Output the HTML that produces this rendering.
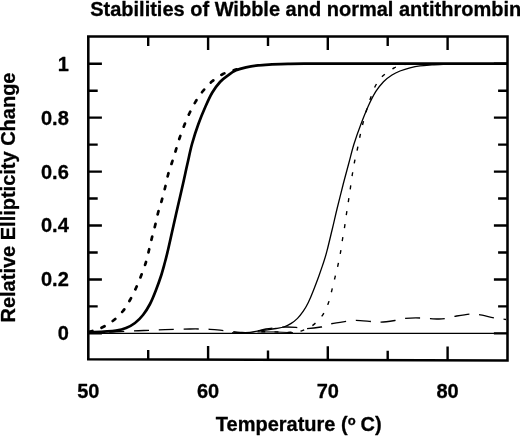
<!DOCTYPE html>
<html><head><meta charset="utf-8"><title>Stabilities of Wibble and normal antithrombin</title>
<style>
html,body{margin:0;padding:0;background:#fff}
svg{display:block}
text{font-family:"Liberation Sans",Arial,Helvetica,sans-serif;font-weight:bold;font-size:20px;fill:#000;stroke:#000;stroke-width:0.3px;stroke-linejoin:round}
</style></head><body>
<svg width="520" height="436" viewBox="0 0 520 436">
<rect width="520" height="436" fill="#fff"/>
<text x="90.2" y="16" textLength="431" lengthAdjust="spacingAndGlyphs">Stabilities of Wibble and normal antithrombin</text>
<text transform="translate(15 322.5) rotate(-90)" textLength="250" lengthAdjust="spacingAndGlyphs">Relative Ellipticity Change</text>
<text x="215.8" y="430.9">Temperature (<tspan font-size="13" dy="-6.4">o</tspan><tspan dy="6.4" dx="-0.6"> C)</tspan></text>
<text x="68.8" y="70.6" text-anchor="end">1</text><text x="68.8" y="124.5" text-anchor="end">0.8</text><text x="68.8" y="178.5" text-anchor="end">0.6</text><text x="68.8" y="232.4" text-anchor="end">0.4</text><text x="68.8" y="286.4" text-anchor="end">0.2</text><text x="68.8" y="340.3" text-anchor="end">0</text>
<text x="88.3" y="398" text-anchor="middle">50</text><text x="208.1" y="398" text-anchor="middle">60</text><text x="327.8" y="398" text-anchor="middle">70</text><text x="447.6" y="398" text-anchor="middle">80</text>
<g fill="none" stroke="#000">
<path d="M88.3 333.3H507.5" stroke-width="1.3"/>
<path d="M88.4 332.5C92.0 332.4 102.4 332.3 110.0 332.0C117.6 331.7 127.3 331.1 134.0 330.8C140.7 330.5 144.8 330.5 150.0 330.3C155.2 330.1 158.3 329.9 165.0 329.7C171.7 329.5 182.5 329.1 190.0 329.0C197.5 328.9 204.3 329.0 210.0 329.3C215.7 329.6 219.0 330.1 224.0 330.6C229.0 331.1 235.7 332.0 240.0 332.3C244.3 332.6 247.0 332.9 250.0 332.6C253.0 332.4 255.3 331.4 258.0 330.8C260.7 330.2 263.3 329.5 266.0 329.0C268.7 328.5 270.8 328.3 274.0 328.0C277.2 327.7 281.3 327.1 285.0 327.0C288.7 326.9 292.3 327.1 296.0 327.4C299.7 327.7 302.8 328.7 307.0 328.6C311.2 328.5 317.0 327.8 321.0 327.0C325.0 326.2 326.8 324.7 331.0 323.8C335.2 322.9 341.8 322.0 346.0 321.4C350.2 320.8 351.7 320.4 356.0 320.4C360.3 320.4 367.8 321.3 372.0 321.6C376.2 321.9 377.0 322.4 381.0 322.2C385.0 322.0 392.0 320.9 396.0 320.3C400.0 319.7 401.0 318.8 405.0 318.4C409.0 318.0 414.5 317.9 420.0 318.0C425.5 318.1 433.7 318.9 438.0 319.0C442.3 319.1 443.2 318.8 446.0 318.3C448.8 317.9 451.0 317.0 455.0 316.3C459.0 315.6 466.0 314.3 470.0 314.0C474.0 313.7 474.8 313.9 479.0 314.6C483.2 315.3 490.5 317.2 495.0 318.0C499.5 318.8 504.2 319.2 506.0 319.5" stroke-width="1.3" stroke-dasharray="15 9.83" stroke-dashoffset="4"/>
<path d="M232.0 332.8C235.0 332.7 245.5 332.7 250.0 332.4C254.5 332.1 255.8 331.2 258.8 330.8C261.7 330.4 264.6 330.2 267.5 329.8C270.4 329.4 273.3 329.0 276.0 328.5C278.7 328.0 281.2 327.9 283.8 327.0C286.3 326.1 289.0 324.8 291.2 323.4C293.5 322.0 295.5 320.4 297.5 318.4C299.5 316.4 301.5 313.8 303.3 311.2C305.1 308.6 306.6 306.0 308.3 302.5C310.0 299.0 311.9 294.4 313.6 290.0C315.3 285.6 317.2 280.6 318.8 276.2C320.3 271.9 321.7 267.9 323.1 263.8C324.5 259.6 325.4 257.0 326.9 251.2C328.4 245.5 330.6 236.0 332.3 229.0C334.0 222.0 335.2 216.3 337.0 209.0C338.8 201.7 341.0 192.8 343.0 185.0C345.0 177.2 347.2 169.3 349.0 162.5C350.8 155.7 352.0 150.4 354.0 144.0C356.0 137.6 358.6 130.3 361.0 124.0C363.4 117.7 365.9 111.4 368.3 106.0C370.8 100.6 373.2 95.8 375.7 91.7C378.2 87.7 380.8 84.5 383.5 81.7C386.2 78.9 389.2 76.8 392.0 75.0C394.8 73.2 397.0 72.2 400.0 71.0C403.0 69.8 406.7 68.6 410.0 67.8C413.3 67.0 416.3 66.4 420.0 65.9C423.7 65.4 427.7 65.2 432.0 64.9C436.3 64.6 443.7 64.4 446.0 64.3" stroke-width="1.3"/>
<path d="M258.0 331.8C260.8 331.8 269.7 331.8 275.0 331.9C280.3 332.0 285.6 332.5 290.0 332.3C294.4 332.1 297.7 332.1 301.6 330.8C305.6 329.5 310.2 327.3 313.7 324.6C317.2 321.9 320.4 318.4 322.8 314.8C325.2 311.2 326.9 307.2 328.4 303.0C329.9 298.8 330.9 293.9 332.0 289.6C333.1 285.3 334.0 281.4 335.0 277.3C336.0 273.2 337.1 269.1 338.0 265.0C338.9 260.9 339.8 256.6 340.5 252.5C341.2 248.4 341.6 244.8 342.3 240.5C343.0 236.2 343.9 231.6 344.6 227.0C345.3 222.4 345.9 217.5 346.6 213.0C347.3 208.5 348.0 204.2 348.6 200.0C349.2 195.8 349.8 192.3 350.4 188.0C351.0 183.7 351.7 178.2 352.4 174.0C353.1 169.8 353.6 166.7 354.4 162.5C355.2 158.3 356.5 153.4 357.4 149.0C358.3 144.6 359.1 140.3 360.0 136.0C360.9 131.7 361.9 127.3 363.0 123.0C364.1 118.7 365.4 114.1 366.6 110.0C367.8 105.9 368.9 102.6 370.4 98.5C371.9 94.4 373.5 89.3 375.6 85.5C377.7 81.7 379.9 78.7 383.0 75.8C386.1 72.9 390.3 69.8 394.0 68.0C397.7 66.2 403.2 65.5 405.0 65.0" stroke-width="1.4" stroke-dasharray="4 9.1" stroke-dashoffset="9.8"/>
<path d="M257.5 331.9L274 331.9L293 332.7" stroke-width="1"/>
<path d="M88.6 332.0C90.0 331.6 94.3 330.6 97.0 329.6C99.7 328.6 102.2 327.6 105.0 326.0C107.8 324.4 111.0 322.5 114.0 320.0C117.0 317.5 120.3 314.3 123.0 311.0C125.7 307.7 127.8 303.8 130.0 300.0C132.2 296.2 134.2 292.0 136.0 288.0C137.8 284.0 139.3 280.3 141.0 276.0C142.7 271.7 144.7 266.3 146.0 262.0C147.3 257.7 148.1 253.8 149.0 250.0C149.9 246.2 150.6 243.0 151.6 239.0C152.6 235.0 153.9 230.3 155.0 226.0C156.1 221.7 156.9 217.2 158.0 213.0C159.1 208.8 160.4 205.2 161.6 201.0C162.8 196.8 163.9 192.3 165.0 188.0C166.1 183.7 166.9 179.2 168.0 175.0C169.1 170.8 170.5 167.0 171.8 163.0C173.1 159.0 174.3 155.2 175.6 151.0C176.9 146.8 178.1 142.3 179.6 138.0C181.1 133.7 182.7 129.2 184.4 125.0C186.1 120.8 187.7 116.9 189.6 113.0C191.5 109.1 193.4 105.3 195.6 101.6C197.8 97.9 200.2 94.4 203.0 91.0C205.8 87.6 208.9 84.1 212.2 81.3C215.5 78.5 219.2 75.9 223.0 74.0C226.8 72.1 231.2 71.0 235.0 69.8C238.8 68.6 244.2 67.3 246.0 66.8" stroke-width="2.7" stroke-dasharray="3.3 9.77" stroke-dashoffset="12.42" stroke-linecap="round"/>
<path d="M88.6 332.3C91.2 332.2 99.4 331.9 104.0 331.6C108.6 331.3 112.3 331.2 116.0 330.6C119.7 330.0 122.8 329.3 126.0 328.0C129.2 326.7 132.2 325.2 135.0 323.0C137.8 320.8 140.5 318.2 143.0 315.0C145.5 311.8 147.8 308.2 150.0 304.0C152.2 299.8 154.2 294.7 156.0 290.0C157.8 285.3 159.5 280.7 161.0 276.0C162.5 271.3 163.8 266.3 165.0 262.0C166.2 257.7 166.7 255.4 168.0 250.0C169.3 244.6 171.0 236.8 172.6 229.5C174.2 222.2 176.0 214.2 177.8 206.5C179.6 198.8 181.6 190.2 183.2 183.0C184.8 175.8 186.1 169.5 187.6 163.0C189.1 156.5 190.2 150.5 192.0 144.0C193.8 137.5 196.1 130.3 198.4 124.0C200.7 117.7 203.4 111.2 205.7 106.0C208.0 100.8 209.9 96.5 212.3 92.5C214.7 88.5 217.4 84.9 220.0 82.0C222.6 79.1 225.3 77.2 228.0 75.3C230.7 73.3 233.0 71.6 236.0 70.3C239.0 69.0 242.3 68.2 246.0 67.4C249.7 66.6 253.7 65.9 258.0 65.4C262.3 64.9 267.0 64.7 272.0 64.4C277.0 64.2 282.7 64.0 288.0 63.9C293.3 63.8 285.3 63.7 304.0 63.7C322.7 63.7 366.2 63.7 400.0 63.7C433.8 63.7 489.2 63.7 507.0 63.7" stroke-width="2.7"/>
<path d="M148.2 36.5v9.4M148.2 359.5v-9.4M208.1 36.5v13.6M208.1 359.6v-13.6M268.0 36.5v9.4M268.0 359.8v-9.4M327.8 36.5v13.6M327.8 359.9v-13.6M387.7 36.5v9.4M387.7 360.1v-9.4M447.6 36.5v13.6M447.6 360.2v-13.6M88.3 333.4h13.6M507.5 333.4h-13.6M88.3 306.4h9.4M507.5 306.4h-9.4M88.3 279.5h13.6M507.5 279.5h-13.6M88.3 252.5h9.4M507.5 252.5h-9.4M88.3 225.5h13.6M507.5 225.5h-13.6M88.3 198.5h9.4M507.5 198.5h-9.4M88.3 171.6h13.6M507.5 171.6h-13.6M88.3 144.6h9.4M507.5 144.6h-9.4M88.3 117.6h13.6M507.5 117.6h-13.6M88.3 90.7h9.4M507.5 90.7h-9.4M88.3 63.7h13.6M507.5 63.7h-13.6" stroke-width="2.4"/>
<path d="M88.3 36.5H507.5V360.4L88.3 359.3Z" stroke-width="2.55"/>
</g>
</svg>
</body></html>
